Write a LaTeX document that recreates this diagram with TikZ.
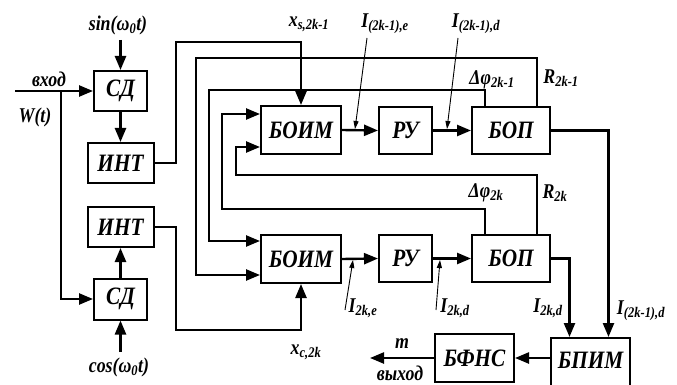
\documentclass[tikz,border=0pt]{standalone}
\usepackage{fontspec}
\newfontfamily\lf{Liberation Serif}[FakeStretch=0.85]
\usetikzlibrary{arrows.meta,calc}
\begin{document}
\begin{tikzpicture}[x=1pt,y=-1pt,
  blk/.style={draw,line width=2pt,rectangle,inner sep=0pt,font=\lf\bfseries\itshape\fontsize{25}{28}\selectfont},
  lbl/.style={inner sep=0pt,font=\lf\bfseries\itshape\fontsize{21}{24}\selectfont},
  conn/.style={line width=2.4pt,-{Triangle[length=14pt,width=11pt]}},
  fine/.style={line width=0.9pt,-{Triangle[length=8pt,width=5pt]}}]
\useasboundingbox (0,0) rectangle (677,385);
% blocks
\node[blk,minimum width=53pt,minimum height=40pt] (sd1) at (120.5,91) {СД};
\node[blk,minimum width=66pt,minimum height=40pt] (int1) at (120.5,163) {ИНТ};
\node[blk,minimum width=66pt,minimum height=40pt] (int2) at (120.5,227) {ИНТ};
\node[blk,minimum width=53pt,minimum height=41pt] (sd2) at (120.5,299) {СД};
\node[blk,minimum width=80pt,minimum height=48pt] (boim1) at (301,130) {БОИМ};
\node[blk,minimum width=53pt,minimum height=47pt] (ru1) at (405.5,130.5) {РУ};
\node[blk,minimum width=78pt,minimum height=47pt] (bop1) at (511,130.5) {БОП};
\node[blk,minimum width=80pt,minimum height=48pt] (boim2) at (301,259) {БОИМ};
\node[blk,minimum width=53pt,minimum height=47pt] (ru2) at (405.5,258.5) {РУ};
\node[blk,minimum width=78pt,minimum height=47pt] (bop2) at (511,258.5) {БОП};
\node[blk,minimum width=79pt,minimum height=48pt] (bfns) at (474.5,358) {БФНС};
\node[blk,minimum width=79pt,minimum height=60pt] (bpim) at (590.5,368) {};
\node[blk,draw=none] (bpimt) at (590.5,360) {БПИМ};
% coordinates
\coordinate (in) at (15,91);
\coordinate (br) at (61,91);
\coordinate (sinc) at (120.5,40);
\coordinate (cosc) at (120.5,352);
\coordinate (a1) at (176,42);
\coordinate (a2) at (176,330);
\coordinate (p1) at (209,90);
\coordinate (p2) at (196,58);
\coordinate (p3) at (222,209);
\coordinate (p4) at (236,175);
\coordinate (out) at (370,358);
% left part
\draw[conn] (in) -- (sd1.west);
\draw[conn] (br) |- (sd2.west);
\draw[conn] (sinc) -- (sd1.north);
\draw[conn] (cosc) -- (sd2.south);
\draw[conn] (sd1.south) -- (int1.north);
\draw[conn] (sd2.north) -- (int2.south);
\draw[conn] (int1.east) -| (a1) -| (boim1.north);
\draw[conn] (int2.east) -| (a2) -| (boim2.south);
% rows
\draw[conn] (boim1.east) -- (ru1.west);
\draw[conn] (ru1.east) -- (bop1.west);
\draw[conn] (boim2.east) -- (ru2.west);
\draw[conn] (ru2.east) -- (bop2.west);
% feedback
\draw[conn] ([xshift=-26pt]bop1.north) |- (p1) |- ($(boim2.west)+(0,-18)$);
\draw[conn] ([xshift=26pt]bop1.north) |- (p2) |- ($(boim2.west)+(0,16)$);
\draw[conn] ([xshift=-26pt]bop2.north) |- (p3) |- ($(boim1.west)+(0,-16)$);
\draw[conn] ([xshift=26pt]bop2.north) |- (p4) |- ($(boim1.west)+(0,17)$);
% outputs
\draw[conn] (bop1.east) -| ([xshift=18pt]bpim.north);
\draw[conn] (bop2.east) -| ([xshift=-21pt]bpim.north);
\draw[conn] (bpim.west |- bfns.east) -- (bfns.east);
\draw[conn] (bfns.west) -- (out);
% thin injections
\coordinate (e1s) at (367,38);
\coordinate (e1t) at (355,129);
\coordinate (d1s) at (458,38);
\coordinate (d1t) at (447,129);
\coordinate (e2s) at (345,310);
\coordinate (e2t) at (353,260);
\coordinate (d2s) at (436,310);
\coordinate (d2t) at (440,260);
\draw[fine] (e1s) -- (e1t);
\draw[fine] (d1s) -- (d1t);
\draw[fine] (e2s) -- (e2t);
\draw[fine] (d2s) -- (d2t);
% labels
\node[lbl] (lsin) at (118,25) {sin(ω\textsubscript{0}t)};
\node[lbl] (lcos) at (119,367) {cos(ω\textsubscript{0}t)};
\node[lbl] (lin) at (49,79) {вход};
\node[lbl] (lw) at (35,117) {W(t)};
\node[lbl] (lxs) at (309,24) {x\textsubscript{s,2k-1}};
\node[lbl] (lxc) at (306,352) {x\textsubscript{c,2k}};
\node[lbl] (lie1) at (385,24) {I\textsubscript{(2k-1),e}};
\node[lbl] (lid1) at (476,24) {I\textsubscript{(2k-1),d}};
\node[lbl] (ldf1) at (492,80) {Δφ\textsubscript{2k-1}};
\node[lbl] (lr1) at (561,78) {R\textsubscript{2k-1}};
\node[lbl] (ldf2) at (486,193) {Δφ\textsubscript{2k}};
\node[lbl] (lr2) at (555,193) {R\textsubscript{2k}};
\node[lbl] (lie2) at (363,308) {I\textsubscript{2k,e}};
\node[lbl] (lid2) at (455,308) {I\textsubscript{2k,d}};
\node[lbl] (lid3) at (548,308) {I\textsubscript{2k,d}};
\node[lbl] (lid4) at (641,311) {I\textsubscript{(2k-1),d}};
\node[lbl] (lm) at (402,344) {m};
\node[lbl] (lout) at (400,373) {выход};
\end{tikzpicture}
\end{document}
